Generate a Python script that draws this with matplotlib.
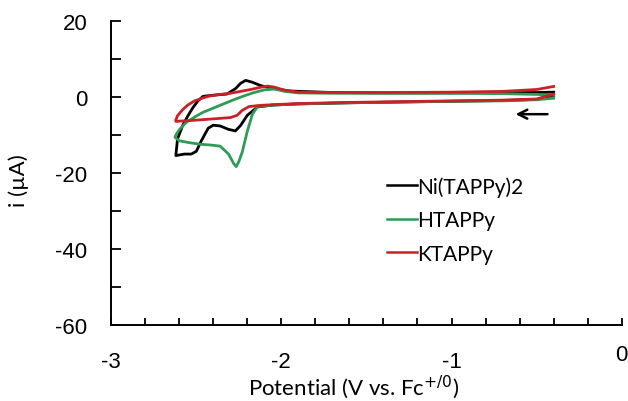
import numpy as np
import matplotlib
matplotlib.use("Agg")
import matplotlib.pyplot as plt
import matplotlib.transforms as mtransforms

# ---- data ----
ni_fwd_E = [-0.40, -0.50, -0.70, -1.00, -1.30, -1.60, -1.90, -2.05, -2.14, -2.20, -2.24, -2.27,
            -2.31, -2.36, -2.40, -2.43, -2.47, -2.50, -2.53, -2.57, -2.62]
ni_fwd_I = [0.3, -0.6, -0.9, -1.1, -1.3, -1.5, -1.8, -2.1, -2.6, -4.8, -7.5, -8.9,
            -8.5, -7.6, -7.4, -8.2, -11.5, -14.3, -15.0, -15.0, -15.4]
ni_rev_E = [-2.61, -2.58, -2.55, -2.52, -2.49, -2.46, -2.40, -2.32, -2.27, -2.24, -2.21, -2.17,
            -2.12, -2.05, -1.95, -1.70, -1.40, -1.00, -0.70, -0.50, -0.40]
ni_rev_I = [-11.0, -7.5, -5.0, -2.8, -1.0, 0.2, 0.5, 0.8, 2.2, 3.6, 4.4, 3.9,
            3.0, 2.3, 1.6, 1.2, 1.1, 1.1, 1.2, 1.2, 1.3]

h_fwd_E = [-0.40, -0.50, -0.70, -1.00, -1.30, -1.60, -1.90, -2.05, -2.14, -2.17, -2.20, -2.23,
           -2.25, -2.265, -2.28, -2.31, -2.36, -2.42, -2.48, -2.54, -2.60, -2.625]
h_fwd_I = [-0.3, -0.7, -1.0, -1.1, -1.3, -1.5, -1.8, -2.1, -2.5, -4.5, -9.0, -14.5,
           -17.0, -18.3, -17.5, -15.0, -12.9, -12.6, -12.4, -12.0, -11.5, -10.6]
h_rev_E = [-2.62, -2.60, -2.56, -2.50, -2.46, -2.40, -2.34, -2.28, -2.22, -2.16, -2.10, -2.04,
           -1.98, -1.90, -1.70, -1.40, -1.00, -0.70, -0.50, -0.40]
h_rev_I = [-10.0, -8.6, -6.7, -5.0, -4.0, -2.9, -1.8, -0.7, 0.3, 1.2, 1.9, 2.1,
           1.5, 1.1, 1.0, 1.0, 1.0, 0.9, 0.7, 0.5]

k_fwd_E = [-0.40, -0.50, -0.70, -1.00, -1.30, -1.60, -1.90, -2.05, -2.13, -2.19, -2.23, -2.26,
           -2.30, -2.36, -2.42, -2.48, -2.54, -2.59, -2.62]
k_fwd_I = [0.8, -0.5, -0.8, -1.0, -1.2, -1.4, -1.7, -2.0, -2.2, -2.5, -3.5, -4.8,
           -5.4, -5.6, -5.8, -6.0, -6.2, -6.3, -6.4]
k_rev_E = [-2.62, -2.61, -2.58, -2.55, -2.51, -2.46, -2.42, -2.36, -2.30, -2.24, -2.18, -2.12,
           -2.08, -2.04, -1.98, -1.90, -1.70, -1.40, -1.00, -0.70, -0.50, -0.40]
k_rev_I = [-6.0, -4.9, -3.3, -2.1, -1.0, -0.2, 0.3, 0.7, 1.0, 1.5, 2.0, 2.6,
           2.9, 2.6, 1.8, 1.3, 1.2, 1.2, 1.3, 1.5, 2.0, 2.8]

labels = ["Ni(TAPPy)2", "HTAPPy", "KTAPPy"]
colors = ["#000000", "#2E9B57", "#CC2027"]

x_major = [-3, -2, -1, 0]
y_major = [-60, -40, -20, 0, 20]

arrow_tail = (-0.42, -4.5)
arrow_head = (-0.64, -4.5)

# ---- figure ----
fig = plt.figure(figsize=(6.28, 4.02), dpi=100)
ax = fig.add_axes([0.177, 0.189, 0.813, 0.756])

series = [
    (ni_fwd_E + ni_rev_E, ni_fwd_I + ni_rev_I),
    (h_fwd_E + h_rev_E, h_fwd_I + h_rev_I),
    (k_fwd_E + k_rev_E, k_fwd_I + k_rev_I),
]
for (E, I), lab, c in zip(series, labels, colors):
    ax.plot(E, I, color=c, lw=2.0, label=lab, solid_joinstyle="round")

ax.set_xlim(-3, 0)
ax.set_ylim(-60, 20)

for s in ["top", "right"]:
    ax.spines[s].set_visible(False)
for s in ["left", "bottom"]:
    ax.spines[s].set_linewidth(1.4)

ax.set_xticks(x_major)
ax.set_xticklabels([str(v) for v in x_major])
ax.set_xticks(np.arange(-3, 0.001, 0.2), minor=True)
ax.set_yticks(y_major)
ax.set_yticklabels([str(v) for v in y_major])
ax.set_yticks(np.arange(-60, 20.001, 10), minor=True)

for lab in ax.get_xticklabels() + ax.get_yticklabels():
    lab.set_fontfamily("Liberation Sans")
    lab.set_fontsize(16)

ax.tick_params(axis="x", which="both", direction="in", length=5, width=1.3, pad=19)
ax.tick_params(axis="y", which="both", direction="in", length=7, width=1.3, pad=17)

# the "0" label sits a little higher in the original
last = ax.get_xticklabels()[-1]
last.set_transform(last.get_transform() + mtransforms.ScaledTranslation(0, 5 / 72, fig.dpi_scale_trans))

ax.set_xlabel("Potential (V vs. Fc$^{+/0}$)", fontfamily="Lato", fontsize=16)
ax.xaxis.set_label_coords(0.475, -0.155)
ax.set_ylabel("i (µA)", fontfamily="Lato", fontsize=16)
ax.yaxis.set_label_coords(-0.16, 0.48)

ax.annotate("", xy=arrow_head, xytext=arrow_tail,
            arrowprops=dict(arrowstyle="->", lw=1.8, color="black", mutation_scale=16))

leg = ax.legend(loc="upper left", bbox_to_anchor=(0.541, 0.49), frameon=False,
                prop=dict(family="Lato", size=15), handlelength=1.4, handletextpad=0.05,
                labelspacing=0.65, borderpad=0, borderaxespad=0)
for line in leg.get_lines():
    line.set_linewidth(1.8)

fig.savefig("out.png", dpi=100)
